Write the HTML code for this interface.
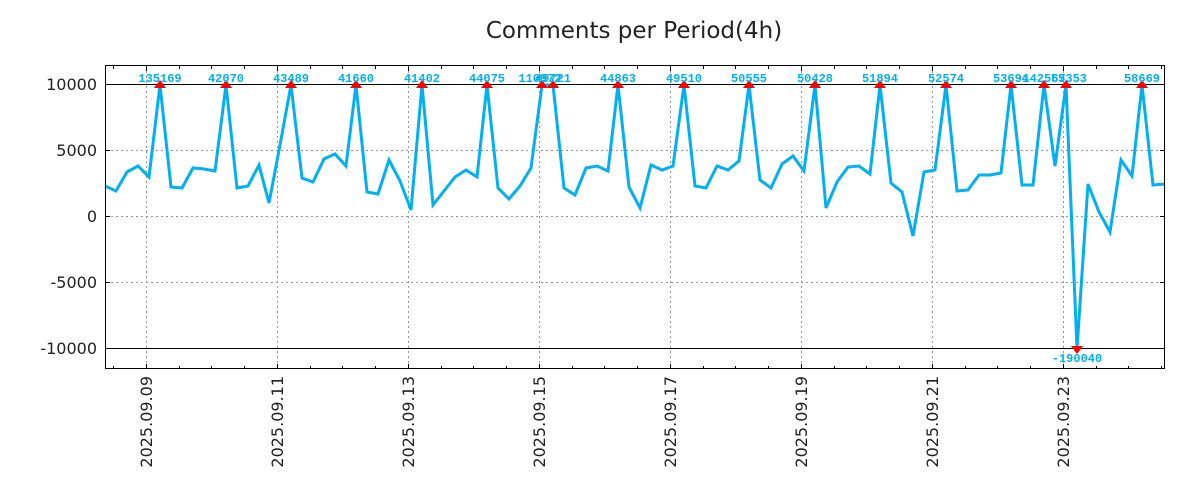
<!DOCTYPE html>
<html><head><meta charset="utf-8"><style>
body{margin:0;background:#fff;}
svg{display:block;font-family:"DejaVu Sans","Liberation Sans",sans-serif;}
.ann{font-family:"Liberation Mono",monospace;font-weight:bold;font-size:12px;fill:#00b0f0;}
</style></head><body>
<svg width="1200" height="500" viewBox="0 0 1200 500">
<text x="634" y="38" font-size="23" text-anchor="middle" fill="#222">Comments per Period(4h)</text>
<g stroke="#999" stroke-dasharray="2,3" stroke-width="1">
<line x1="106" x2="1165" y1="150.5" y2="150.5"/>
<line x1="106" x2="1165" y1="216.5" y2="216.5"/>
<line x1="106" x2="1165" y1="282.5" y2="282.5"/>
<line x1="146.5" x2="146.5" y1="66" y2="368"/>
<line x1="277.5" x2="277.5" y1="66" y2="368"/>
<line x1="408.5" x2="408.5" y1="66" y2="368"/>
<line x1="539.5" x2="539.5" y1="66" y2="368"/>
<line x1="670.5" x2="670.5" y1="66" y2="368"/>
<line x1="801.5" x2="801.5" y1="66" y2="368"/>
<line x1="932.5" x2="932.5" y1="66" y2="368"/>
<line x1="1063.5" x2="1063.5" y1="66" y2="368"/>
</g>
<g stroke="#000" stroke-width="1">
<line x1="106" x2="1165" y1="84.5" y2="84.5"/>
<line x1="106" x2="1165" y1="348.5" y2="348.5"/>
</g>
<polyline fill="none" stroke="#00b0f0" stroke-width="3" stroke-linejoin="miter" points="105,186 116,191 127,172 138,166 149,177 160,85 171,187 182,188 193,168 204,169 215,171 226,85 237,188 248,186 259,165 269,203 280,145 291,85 302,178 313,182 324,159 335,154 346,166 356,85 367,192 378,194 389,160 400,181 411,210 422,85 433,205 444,191 455,177 466,170 477,177 487,85 498,188 509,199 520,186 531,168 542,85 553,85 564,188 575,195 586,168 597,166 608,171 618,85 629,187 640,208 651,165 662,170 673,166 684,85 695,186 706,188 717,166 728,170 739,161 749,85 760,180 771,188 782,164 793,156 804,171 815,85 826,208 837,182 848,167 859,166 870,174 880,85 891,183 902,192 913,236 924,172 935,170 946,85 957,191 968,190 979,175 990,175 1001,173 1011,85 1022,185 1033,185 1044,85 1055,166 1066,85 1077,349 1088,184 1099,212 1110,232 1121,160 1132,176 1142,85 1153,185 1165,184"/>
<g fill="#f00">
<path d="M154,88 L166,88 L160,80Z"/><path d="M220,88 L232,88 L226,80Z"/><path d="M285,88 L297,88 L291,80Z"/><path d="M350,88 L362,88 L356,80Z"/><path d="M416,88 L428,88 L422,80Z"/><path d="M481,88 L493,88 L487,80Z"/><path d="M536,88 L548,88 L542,80Z"/><path d="M547,88 L559,88 L553,80Z"/><path d="M612,88 L624,88 L618,80Z"/><path d="M678,88 L690,88 L684,80Z"/><path d="M743,88 L755,88 L749,80Z"/><path d="M809,88 L821,88 L815,80Z"/><path d="M874,88 L886,88 L880,80Z"/><path d="M940,88 L952,88 L946,80Z"/><path d="M1005,88 L1017,88 L1011,80Z"/><path d="M1038,88 L1050,88 L1044,80Z"/><path d="M1060,88 L1072,88 L1066,80Z"/><path d="M1136,88 L1148,88 L1142,80Z"/>
<path d="M1071,346 L1083,346 L1077,354Z"/>
</g>
<g class="ann" text-anchor="middle">
<text x="160" y="82">135169</text><text x="226" y="82">42070</text><text x="291" y="82">43489</text><text x="356" y="82">41660</text><text x="422" y="82">41402</text><text x="487" y="82">44075</text><text x="540" y="82">110972</text><text x="553" y="82">49721</text><text x="618" y="82">44863</text><text x="684" y="82">49510</text><text x="749" y="82">50555</text><text x="815" y="82">50428</text><text x="880" y="82">51894</text><text x="946" y="82">52574</text><text x="1011" y="82">53694</text><text x="1044" y="82">142567</text><text x="1069" y="82">55353</text><text x="1142" y="82">58669</text>
<text x="1077" y="362">-190040</text>
</g>
<rect x="105.5" y="65.5" width="1059" height="303" fill="none" stroke="#000" stroke-width="1"/>
<g stroke="#000" stroke-width="1">
<line x1="106" x2="110" y1="84.5" y2="84.5"/><line x1="106" x2="110" y1="150.5" y2="150.5"/><line x1="106" x2="110" y1="216.5" y2="216.5"/><line x1="106" x2="110" y1="282.5" y2="282.5"/><line x1="106" x2="110" y1="348.5" y2="348.5"/>
<line x1="1160" x2="1165" y1="84.5" y2="84.5"/><line x1="1160" x2="1165" y1="150.5" y2="150.5"/><line x1="1160" x2="1165" y1="216.5" y2="216.5"/><line x1="1160" x2="1165" y1="282.5" y2="282.5"/><line x1="1160" x2="1165" y1="348.5" y2="348.5"/>
</g>
<g stroke="#000" stroke-width="1">
<path d="M113.5,369v-3M146.5,369v-5M179.5,369v-3M211.5,369v-3M244.5,369v-3M277.5,369v-5M310.5,369v-3M342.5,369v-3M375.5,369v-3M408.5,369v-5M441.5,369v-3M473.5,369v-3M506.5,369v-3M539.5,369v-5M572.5,369v-3M604.5,369v-3M637.5,369v-3M670.5,369v-5M703.5,369v-3M735.5,369v-3M768.5,369v-3M801.5,369v-5M834.5,369v-3M866.5,369v-3M899.5,369v-3M932.5,369v-5M965.5,369v-3M997.5,369v-3M1030.5,369v-3M1063.5,369v-5M1096.5,369v-3M1128.5,369v-3M1161.5,369v-3"/>
<path d="M113.5,66v3M146.5,66v5M179.5,66v3M211.5,66v3M244.5,66v3M277.5,66v5M310.5,66v3M342.5,66v3M375.5,66v3M408.5,66v5M441.5,66v3M473.5,66v3M506.5,66v3M539.5,66v5M572.5,66v3M604.5,66v3M637.5,66v3M670.5,66v5M703.5,66v3M735.5,66v3M768.5,66v3M801.5,66v5M834.5,66v3M866.5,66v3M899.5,66v3M932.5,66v5M965.5,66v3M997.5,66v3M1030.5,66v3M1063.5,66v5M1096.5,66v3M1128.5,66v3M1161.5,66v3"/>
</g>
<g font-size="16" fill="#222" text-anchor="end">
<text x="97" y="90">10000</text><text x="97" y="156">5000</text><text x="97" y="222">0</text><text x="97" y="288">-5000</text><text x="97" y="354">-10000</text>
</g>
<g font-size="16" fill="#222" text-anchor="end">
<text transform="translate(152,376) rotate(-90)">2025.09.09</text>
<text transform="translate(283,376) rotate(-90)">2025.09.11</text>
<text transform="translate(414,376) rotate(-90)">2025.09.13</text>
<text transform="translate(545,376) rotate(-90)">2025.09.15</text>
<text transform="translate(676,376) rotate(-90)">2025.09.17</text>
<text transform="translate(807,376) rotate(-90)">2025.09.19</text>
<text transform="translate(938,376) rotate(-90)">2025.09.21</text>
<text transform="translate(1069,376) rotate(-90)">2025.09.23</text>
</g>
</svg>
</body></html>
